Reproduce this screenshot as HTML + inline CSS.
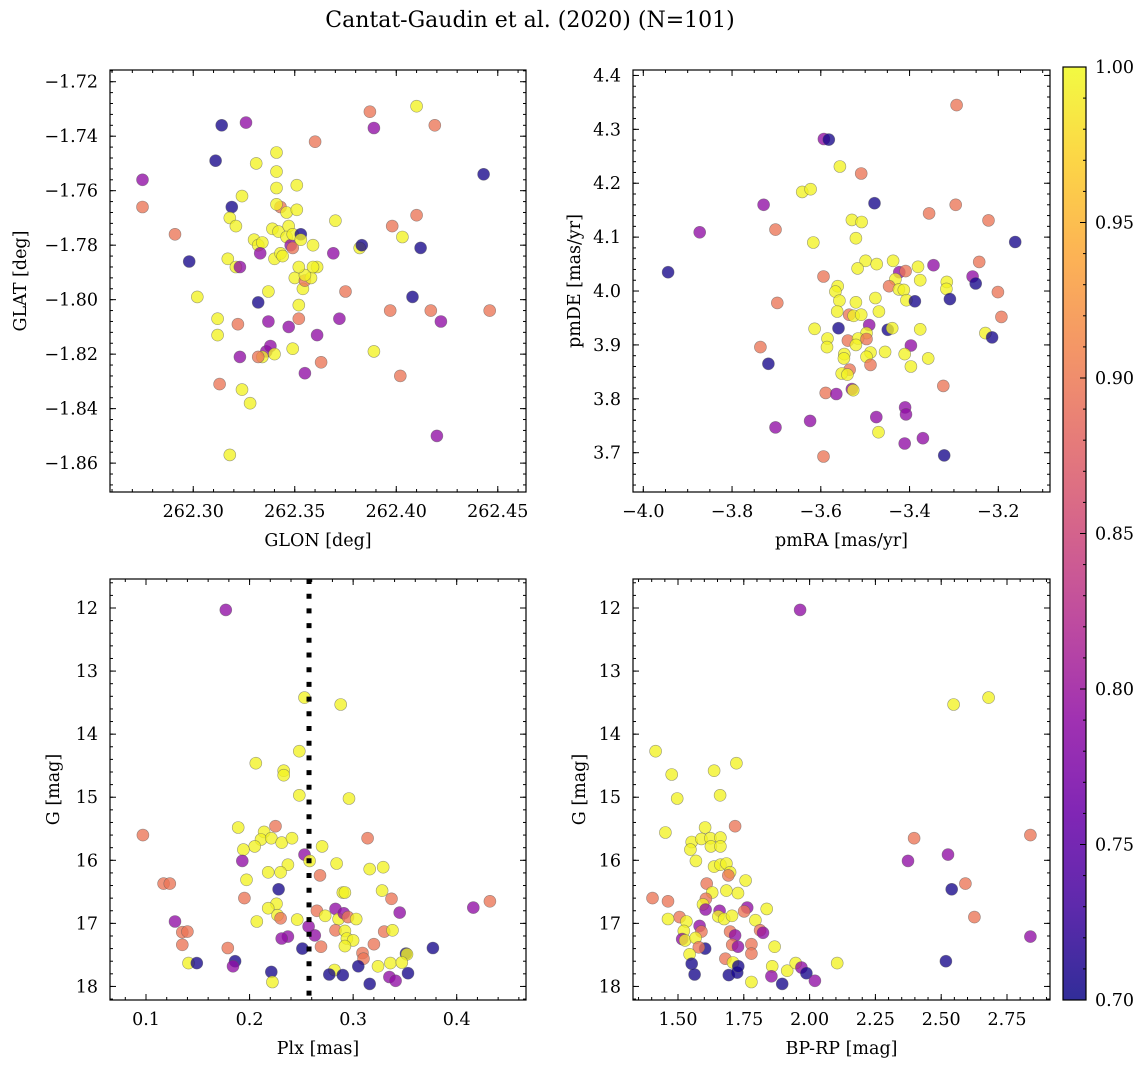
<!DOCTYPE html>
<html>
<head>
<meta charset="utf-8">
<style>
html,body{margin:0;padding:0;background:#fff;}
svg{display:block;font-family:"DejaVu Serif","Liberation Serif",serif;}
</style>
</head>
<body>
<svg id="fig" width="1148" height="1067" viewBox="0 0 1148 1067" xmlns="http://www.w3.org/2000/svg">
<rect width="1148" height="1067" fill="#fff"/>
<text x="530" y="27" text-anchor="middle" font-size="22">Cantat-Gaudin et al. (2020) (N=101)</text>
</svg>
<script>
// ---- data (membership probability: 0.995 yellow, 0.895 salmon, 0.79 purple, 0.705 navy) ----
const glon = [262.275,262.275,262.291,262.298,262.302,262.311,262.314,262.326,262.319,262.318,262.321,262.324,262.317,262.321,262.323,262.312,262.312,262.322,262.323,262.313,262.324,262.328,262.318,262.331,262.341,262.330,262.332,262.334,262.333,262.332,262.337,262.337,262.336,262.334,262.332,262.338,262.340,262.340,262.339,262.343,262.341,262.341,262.341,262.342,262.346,262.351,262.347,262.346,262.348,262.349,262.349,262.343,262.344,262.349,262.350,262.351,262.353,262.354,262.352,262.355,262.358,262.355,262.352,262.353,262.347,262.352,262.355,262.361,262.360,262.359,262.361,262.359,262.363,262.370,262.369,262.372,262.375,262.382,262.383,262.387,262.389,262.389,262.398,262.397,262.402,262.403,262.408,262.410,262.412,262.417,262.419,262.420,262.422,262.410,262.443,262.446];
const glat = [-1.756,-1.766,-1.776,-1.786,-1.799,-1.749,-1.736,-1.735,-1.766,-1.770,-1.773,-1.762,-1.785,-1.788,-1.788,-1.807,-1.813,-1.809,-1.821,-1.831,-1.833,-1.838,-1.857,-1.750,-1.746,-1.778,-1.780,-1.779,-1.783,-1.801,-1.797,-1.808,-1.819,-1.821,-1.821,-1.817,-1.820,-1.785,-1.774,-1.766,-1.753,-1.759,-1.765,-1.775,-1.768,-1.767,-1.773,-1.777,-1.780,-1.776,-1.781,-1.783,-1.784,-1.818,-1.792,-1.758,-1.776,-1.796,-1.802,-1.793,-1.792,-1.791,-1.788,-1.778,-1.810,-1.807,-1.827,-1.813,-1.742,-1.780,-1.788,-1.788,-1.823,-1.771,-1.783,-1.807,-1.797,-1.781,-1.780,-1.731,-1.737,-1.819,-1.773,-1.804,-1.828,-1.777,-1.799,-1.769,-1.781,-1.804,-1.736,-1.850,-1.808,-1.729,-1.754,-1.804];
const prob1 = [0.79,0.895,0.895,0.705,0.995,0.705,0.705,0.79,0.705,0.995,0.995,0.995,0.995,0.995,0.79,0.995,0.995,0.895,0.79,0.895,0.995,0.995,0.995,0.995,0.995,0.995,0.995,0.995,0.79,0.705,0.995,0.79,0.79,0.995,0.895,0.79,0.995,0.995,0.995,0.895,0.995,0.995,0.995,0.995,0.995,0.995,0.995,0.995,0.79,0.995,0.895,0.995,0.995,0.995,0.995,0.995,0.705,0.995,0.995,0.895,0.995,0.995,0.995,0.995,0.79,0.895,0.79,0.79,0.895,0.995,0.995,0.995,0.895,0.995,0.79,0.79,0.895,0.995,0.705,0.895,0.79,0.995,0.895,0.895,0.895,0.995,0.705,0.895,0.705,0.895,0.895,0.79,0.79,0.995,0.705,0.895];

const pmra = [-3.294,-3.593,-3.582,-3.557,-3.509,-3.642,-3.623,-3.729,-3.479,-3.296,-3.356,-3.222,-3.873,-3.702,-3.530,-3.508,-3.521,-3.617,-3.162,-3.944,-3.499,-3.517,-3.474,-3.437,-3.381,-3.346,-3.243,-3.423,-3.409,-3.594,-3.258,-3.251,-3.562,-3.567,-3.432,-3.376,-3.316,-3.317,-3.446,-3.424,-3.413,-3.201,-3.558,-3.521,-3.477,-3.407,-3.388,-3.309,-3.698,-3.563,-3.469,-3.536,-3.526,-3.509,-3.193,-3.614,-3.560,-3.491,-3.449,-3.439,-3.376,-3.229,-3.214,-3.585,-3.539,-3.497,-3.516,-3.497,-3.521,-3.586,-3.397,-3.736,-3.547,-3.488,-3.455,-3.411,-3.358,-3.548,-3.497,-3.718,-3.488,-3.397,-3.535,-3.553,-3.540,-3.324,-3.530,-3.527,-3.589,-3.565,-3.410,-3.408,-3.475,-3.624,-3.702,-3.470,-3.370,-3.411,-3.322,-3.594];
const pmde = [4.345,4.282,4.281,4.231,4.218,4.184,4.189,4.160,4.163,4.160,4.144,4.131,4.109,4.114,4.132,4.128,4.098,4.090,4.091,4.035,4.056,4.042,4.050,4.056,4.045,4.048,4.054,4.035,4.037,4.027,4.027,4.014,4.009,3.999,4.022,4.020,4.017,4.004,4.009,4.003,4.002,3.998,3.982,3.979,3.987,3.983,3.981,3.985,3.978,3.962,3.962,3.956,3.954,3.956,3.952,3.930,3.931,3.937,3.928,3.931,3.929,3.922,3.914,3.912,3.908,3.922,3.912,3.911,3.900,3.896,3.899,3.896,3.883,3.886,3.887,3.883,3.875,3.875,3.878,3.865,3.863,3.860,3.854,3.847,3.845,3.824,3.818,3.816,3.811,3.809,3.784,3.771,3.766,3.759,3.747,3.738,3.727,3.717,3.695,3.693];
const prob2 = [0.895,0.79,0.705,0.995,0.895,0.995,0.995,0.79,0.705,0.895,0.895,0.895,0.79,0.895,0.995,0.995,0.995,0.995,0.705,0.705,0.995,0.995,0.995,0.995,0.995,0.79,0.895,0.79,0.895,0.895,0.79,0.705,0.995,0.995,0.995,0.995,0.995,0.995,0.895,0.995,0.995,0.895,0.995,0.995,0.995,0.995,0.705,0.705,0.895,0.995,0.995,0.895,0.995,0.995,0.895,0.995,0.705,0.79,0.705,0.995,0.995,0.995,0.705,0.995,0.895,0.995,0.995,0.895,0.995,0.995,0.79,0.895,0.995,0.995,0.995,0.995,0.995,0.995,0.995,0.705,0.895,0.995,0.895,0.995,0.995,0.895,0.79,0.995,0.895,0.79,0.79,0.79,0.79,0.79,0.79,0.995,0.79,0.79,0.705,0.895];

const plx = [0.177,0.253,0.288,0.248,0.206,0.233,0.233,0.248,0.296,0.097,0.189,0.225,0.214,0.211,0.221,0.231,0.241,0.205,0.194,0.270,0.314,0.193,0.253,0.258,0.284,0.237,0.230,0.218,0.316,0.329,0.268,0.197,0.117,0.123,0.228,0.290,0.292,0.328,0.337,0.195,0.226,0.218,0.265,0.283,0.345,0.416,0.432,0.227,0.230,0.273,0.286,0.291,0.295,0.303,0.246,0.207,0.128,0.257,0.135,0.140,0.283,0.292,0.330,0.338,0.237,0.231,0.263,0.294,0.300,0.135,0.269,0.292,0.320,0.179,0.251,0.377,0.309,0.310,0.351,0.352,0.141,0.149,0.186,0.184,0.221,0.222,0.282,0.277,0.290,0.305,0.324,0.336,0.347,0.316,0.335,0.341,0.353];
const gmag3 = [12.03,13.42,13.53,14.27,14.46,14.58,14.65,14.97,15.02,15.60,15.48,15.46,15.55,15.67,15.65,15.72,15.65,15.78,15.83,15.78,15.65,16.01,15.91,16.01,16.05,16.07,16.19,16.19,16.14,16.11,16.24,16.31,16.37,16.37,16.46,16.51,16.51,16.48,16.61,16.60,16.69,16.76,16.80,16.77,16.83,16.75,16.65,16.87,16.92,16.88,16.93,16.84,16.90,16.93,16.94,16.97,16.97,17.05,17.14,17.13,17.11,17.12,17.13,17.11,17.21,17.24,17.19,17.24,17.27,17.34,17.37,17.36,17.33,17.39,17.40,17.39,17.47,17.56,17.48,17.49,17.63,17.63,17.60,17.68,17.77,17.93,17.74,17.81,17.82,17.68,17.68,17.63,17.62,17.96,17.85,17.91,17.79];
const prob3 = [0.79,0.995,0.995,0.995,0.995,0.995,0.995,0.995,0.995,0.895,0.995,0.895,0.995,0.995,0.995,0.995,0.995,0.995,0.995,0.995,0.895,0.79,0.79,0.995,0.995,0.995,0.995,0.995,0.995,0.995,0.895,0.995,0.895,0.895,0.705,0.995,0.995,0.995,0.895,0.895,0.995,0.995,0.895,0.79,0.79,0.79,0.895,0.995,0.895,0.995,0.995,0.79,0.895,0.995,0.995,0.995,0.79,0.79,0.895,0.895,0.895,0.995,0.895,0.995,0.79,0.79,0.79,0.995,0.995,0.895,0.895,0.995,0.895,0.895,0.705,0.705,0.895,0.895,0.705,0.995,0.995,0.705,0.705,0.79,0.705,0.995,0.995,0.705,0.705,0.705,0.995,0.995,0.995,0.705,0.79,0.79,0.705];

const bprp = [1.964,2.547,2.680,1.415,1.476,1.637,1.722,1.497,1.660,1.452,1.603,1.717,1.552,1.589,1.623,1.661,1.547,1.625,1.661,1.568,1.637,1.661,1.684,1.698,1.691,1.757,1.609,1.630,1.684,1.728,1.403,1.462,1.606,1.595,1.605,1.658,1.763,1.751,1.837,1.506,1.462,1.532,1.653,1.675,1.705,1.794,1.582,1.589,1.522,1.516,1.527,1.567,1.698,1.717,1.812,1.823,1.603,1.579,1.544,1.706,1.728,1.779,1.779,1.867,1.680,1.709,1.552,1.563,1.693,1.725,1.729,1.779,1.858,1.855,1.896,1.915,1.947,1.969,1.988,2.020,2.105,2.374,2.397,2.526,2.540,2.592,2.626,2.839,2.839,2.518];
const gmag4 = [12.03,13.53,13.42,14.27,14.64,14.58,14.46,15.02,14.97,15.56,15.48,15.46,15.71,15.66,15.65,15.64,15.83,15.78,15.78,16.01,16.10,16.07,16.05,16.19,16.24,16.32,16.37,16.51,16.48,16.52,16.60,16.65,16.61,16.70,16.78,16.80,16.75,16.81,16.77,16.90,16.93,16.97,16.89,16.93,16.88,16.95,17.04,17.13,17.12,17.25,17.27,17.23,17.13,17.19,17.11,17.15,17.40,17.38,17.49,17.34,17.37,17.33,17.48,17.37,17.56,17.62,17.64,17.81,17.82,17.78,17.68,17.93,17.68,17.84,17.96,17.75,17.63,17.70,17.79,17.91,17.63,16.01,15.65,15.91,16.46,16.37,16.90,15.60,17.21,17.60];
const prob4 = [0.79,0.995,0.995,0.995,0.995,0.995,0.995,0.995,0.995,0.995,0.995,0.895,0.995,0.995,0.995,0.995,0.995,0.995,0.995,0.995,0.995,0.995,0.995,0.995,0.895,0.995,0.895,0.995,0.995,0.995,0.895,0.895,0.895,0.995,0.79,0.79,0.79,0.895,0.995,0.895,0.995,0.995,0.995,0.995,0.995,0.995,0.79,0.895,0.995,0.79,0.995,0.995,0.895,0.79,0.895,0.79,0.705,0.895,0.995,0.895,0.79,0.895,0.895,0.995,0.895,0.995,0.705,0.705,0.705,0.705,0.705,0.995,0.995,0.79,0.705,0.995,0.995,0.79,0.705,0.79,0.995,0.79,0.895,0.79,0.705,0.895,0.895,0.895,0.79,0.705];

const plxMean = [0.2574];

// tick definitions
const ticks1x = [262.30,262.35,262.40,262.45];
const ticks1y = [-1.72,-1.74,-1.76,-1.78,-1.80,-1.82,-1.84,-1.86];
const ticks2x = [-4.0,-3.8,-3.6,-3.4,-3.2];
const ticks2y = [4.4,4.3,4.2,4.1,4.0,3.9,3.8,3.7];
const ticks3x = [0.1,0.2,0.3,0.4];
const ticksG = [12,13,14,15,16,17,18];
const ticks4x = [1.50,1.75,2.00,2.25,2.50,2.75];
const ticksCb = [0.70,0.75,0.80,0.85,0.90,0.95,1.00];

const NS = "http://www.w3.org/2000/svg";
const svg = document.getElementById('fig');
function el(tag, attrs, parent){
  const e = document.createElementNS(NS, tag);
  for (const k in attrs) e.setAttribute(k, attrs[k]);
  (parent||svg).appendChild(e);
  return e;
}
const stops = ['#0d0887','#41049d','#6a00a8','#8f0da4','#b12a90','#cc4778','#e16462','#f2844b','#fca636','#fcce25','#f0f921'];
function hex(h){return [parseInt(h.slice(1,3),16),parseInt(h.slice(3,5),16),parseInt(h.slice(5,7),16)];}
function plasma(t){
  t=Math.max(0,Math.min(1,t));
  const f=t*10, i=Math.min(9,Math.floor(f)), r=f-i;
  const a=hex(stops[i]), b=hex(stops[i+1]);
  return 'rgb('+a.map((v,k)=>Math.round(v+(b[k]-v)*r)).join(',')+')';
}
const vmin=0.70, vmax=1.00;
function fmtMinus(s){return s.replace('-','\u2212');}

function makePanel(cfg){
  const {name,L,R,T,B,xmin,xmax,ymin,ymax,invY,xt,yt,xminor,yminor,xdec,ydec,xlabel,ylabel,ylabX,xs,ys,cs} = cfg;
  const sx = v => L + (v-xmin)/(xmax-xmin)*(R-L);
  const sy = invY ? (v => T + (v-ymin)/(ymax-ymin)*(B-T)) : (v => B - (v-ymin)/(ymax-ymin)*(B-T));
  const g = el('g',{});
  
  
  const clipId = name+'-clip';
  const cp = el('clipPath',{id:clipId},g); el('rect',{x:L,y:T,width:R-L,height:B-T},cp);
  const pts = el('g',{'clip-path':'url(#'+clipId+')'},g);
  
  
  for (let i=0;i<xs.length;i++){
    const c = el('circle',{cx:sx(xs[i]).toFixed(1),cy:sy(ys[i]).toFixed(1),r:6,fill:plasma((cs[i]-vmin)/(vmax-vmin)),'fill-opacity':0.78,stroke:'#5a5a5a','stroke-opacity':0.6,'stroke-width':0.6},pts);
    
    
  }
  if (cfg.extra) cfg.extra(pts,sx,sy);
  const fr = el('rect',{x:L,y:T,width:R-L,height:B-T,fill:'none',stroke:'#000','stroke-width':1.2},g);
  
  
  const tk = el('g',{stroke:'#000','stroke-width':1},g);
  for (let v=Math.ceil(xmin/xminor)*xminor; v<=xmax; v+=xminor){
    const x=sx(v); el('line',{x1:x,x2:x,y1:B,y2:B-3},tk); el('line',{x1:x,x2:x,y1:T,y2:T+3},tk);
  }
  const ylo=Math.min(ymin,ymax), yhi=Math.max(ymin,ymax);
  for (let v=Math.ceil(ylo/yminor)*yminor; v<=yhi; v+=yminor){
    const y=sy(v); el('line',{x1:L,x2:L+3,y1:y,y2:y},tk); el('line',{x1:R,x2:R-3,y1:y,y2:y},tk);
  }
  xt.forEach(v=>{
    const x=sx(v);
    el('line',{x1:x,x2:x,y1:B,y2:B-6},tk); el('line',{x1:x,x2:x,y1:T,y2:T+6},tk);
    const t=el('text',{x:x,y:B+25,'text-anchor':'middle','font-size':17.5},g);
    t.textContent=fmtMinus(v.toFixed(xdec));
    
    
  });
  yt.forEach(v=>{
    const y=sy(v);
    el('line',{x1:L,x2:L+6,y1:y,y2:y},tk); el('line',{x1:R,x2:R-6,y1:y,y2:y},tk);
    const t=el('text',{x:L-12,y:y+6,'text-anchor':'end','font-size':17.5},g);
    t.textContent=fmtMinus(v.toFixed(ydec));
    
    
  });
  const xl=el('text',{x:(L+R)/2,y:B+54,'text-anchor':'middle','font-size':17.5},g);
  xl.textContent=xlabel;
  
  
  const yl=el('text',{x:0,y:0,'text-anchor':'middle','font-size':17.5,transform:'translate('+ylabX+','+((T+B)/2)+') rotate(-90)'},g);
  yl.textContent=ylabel;
  
  
}

makePanel({name:'glon-glat-panel',L:110,R:526,T:70,B:492,xmin:262.2590,xmax:262.4639,ymin:-1.8706,ymax:-1.7157,invY:false,
  xt:ticks1x,yt:ticks1y,xminor:0.01,yminor:0.004,xdec:2,ydec:2,xlabel:'GLON [deg]',ylabel:'GLAT [deg]',ylabX:26,xs:glon,ys:glat,cs:prob1});
makePanel({name:'pm-panel',L:633,R:1050,T:70,B:492,xmin:-4.0232,xmax:-3.0835,ymin:3.6271,ymax:4.4101,invY:false,
  xt:ticks2x,yt:ticks2y,xminor:0.05,yminor:0.02,xdec:1,ydec:1,xlabel:'pmRA [mas/yr]',ylabel:'pmDE [mas/yr]',ylabX:580,xs:pmra,ys:pmde,cs:prob2});
makePanel({name:'plx-g-panel',L:110,R:526,T:579,B:1000,xmin:0.06524,xmax:0.4669,ymin:11.540,ymax:18.215,invY:true,
  xt:ticks3x,yt:ticksG,xminor:0.02,yminor:0.2,xdec:1,ydec:0,xlabel:'Plx [mas]',ylabel:'G [mag]',ylabX:59,xs:plx,ys:gmag3,cs:prob3,
  extra:(g,sx,sy)=>{
    const x=sx(plxMean[0]);
    const ln=el('line',{x1:x,x2:x,y1:579,y2:1000,stroke:'#000','stroke-width':5,'stroke-dasharray':'5 9.7'},g);
    
    
  }});
makePanel({name:'cmd-panel',L:633,R:1050,T:579,B:1000,xmin:1.329,xmax:2.9134,ymin:11.540,ymax:18.215,invY:true,
  xt:ticks4x,yt:ticksG,xminor:0.05,yminor:0.2,xdec:2,ydec:0,xlabel:'BP-RP [mag]',ylabel:'G [mag]',ylabX:585,xs:bprp,ys:gmag4,cs:prob4});

(function(){
  const L=1063,R=1086,T=67,B=1000;
  const defs=el('defs',{});
  const lg=el('linearGradient',{id:'cbgrad',x1:0,y1:1,x2:0,y2:0},defs);
  for(let i=0;i<=20;i++){el('stop',{offset:(i/20),'stop-color':plasma(i/20),'stop-opacity':0.85},lg);}
  const g=el('g',{});
  
  
  el('rect',{x:L,y:T,width:R-L,height:B-T,fill:'url(#cbgrad)',stroke:'#000','stroke-width':1.2},g);
  const sy=v=>B-(v-vmin)/(vmax-vmin)*(B-T);
  for(let v=0.70; v<=1.0001; v+=0.01){const y=sy(v); el('line',{x1:R,x2:R-3,y1:y,y2:y,stroke:'#000'},g);}
  ticksCb.forEach(v=>{
    const y=sy(v);
    el('line',{x1:R,x2:R-6,y1:y,y2:y,stroke:'#000'},g);
    const t=el('text',{x:R+9,y:y+6,'font-size':17.5},g);
    t.textContent=v.toFixed(2);
    
    
  });
})();
</script>
</body>
</html>
